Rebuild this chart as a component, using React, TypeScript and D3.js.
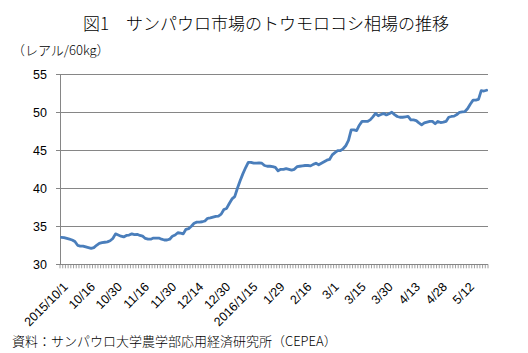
import React from "react";
import * as d3 from "d3";

const title = "図1　サンパウロ市場のトウモロコシ相場の推移";
const unitLabel = "（レアル/60kg）";
const sourceText = "資料：サンパウロ大学農学部応用経済研究所（CEPEA）";

const xTickLabels = [
  "2015/10/1", "10/16", "10/30", "11/16", "11/30", "12/14", "12/30", "2016/1/15",
  "1/29", "2/16", "3/1", "3/15", "3/30", "4/13", "4/28", "5/12",
];
const labelEvery = 10;

const yTicks = [30, 35, 40, 45, 50, 55];

const prices = [
  33.55, 33.5, 33.4, 33.3, 33.2, 33.0, 32.5, 32.4, 32.4, 32.3,
  32.2, 32.1, 32.2, 32.5, 32.75, 32.85, 32.9, 32.95, 33.1, 33.4,
  34.0, 33.85, 33.7, 33.6, 33.8, 33.85, 34.0, 33.9, 33.95, 33.8,
  33.7, 33.4, 33.3, 33.3, 33.45, 33.45, 33.45, 33.3, 33.2, 33.2,
  33.3, 33.7, 33.85, 34.15, 34.1, 34.0, 34.6, 34.7, 35.0, 35.4,
  35.55, 35.55, 35.6, 35.7, 36.05, 36.1, 36.2, 36.3, 36.35, 36.6,
  37.2, 37.35, 38.0, 38.6, 38.9, 40.0, 41.0, 41.9, 42.7, 43.4,
  43.4, 43.3, 43.3, 43.35, 43.3, 43.0, 42.9, 42.9, 42.85, 42.75,
  42.3, 42.5, 42.5, 42.6, 42.5, 42.4, 42.5, 42.85, 42.9, 42.95,
  43.0, 43.0, 42.95, 43.15, 43.3, 43.1, 43.3, 43.5, 43.7, 43.8,
  44.4, 44.7, 44.95, 44.95, 45.2, 45.6, 46.3, 47.7, 47.7, 47.6,
  48.3, 48.8, 48.8, 48.8, 49.0, 49.4, 49.85, 49.55, 49.7, 49.85,
  49.65, 49.8, 50.0, 49.7, 49.45, 49.35, 49.35, 49.4, 49.45, 49.0,
  49.0, 48.9, 48.6, 48.35, 48.6, 48.7, 48.8, 48.8, 48.5, 48.8,
  48.65, 48.7, 48.8, 49.35, 49.45, 49.5, 49.7, 50.0, 50.05, 50.1,
  50.5, 51.1, 51.6, 51.6, 51.7, 52.85, 52.8, 52.9,
];

const W = 528;
const H = 353;
const plot = { left: 60, right: 488, top: 74.3, bottom: 264.3 };
const jpFont = "'Noto Sans CJK JP', 'Noto Sans', sans-serif";
const numFont = "'Liberation Sans', 'DejaVu Sans', sans-serif";

export default function App() {
  const n = prices.length;
  const idx = d3.range(n);
  const band = d3
    .scaleBand<number>()
    .domain(idx)
    .range([plot.left, plot.right])
    .paddingInner(0)
    .paddingOuter(0);
  const bw = band.bandwidth();
  const cx = (i: number) => (band(i) as number) + bw / 2;
  const y = d3.scaleLinear().domain([30, 55]).range([plot.bottom, plot.top]);

  const line = d3
    .line<number>()
    .x((_, i) => cx(i))
    .y((d) => y(d))
    .curve(d3.curveLinear);

  const tickXs = d3.range(n + 1).map((i) => plot.left + i * bw);

  return (
    <svg
      width={W}
      height={H}
      style={{ position: "absolute", left: 0, top: 0, background: "#fff" }}
    >
      <rect x={0} y={0} width={W} height={H} fill="#fff" />
      <text
        x={266}
        y={30}
        textAnchor="middle"
        fontFamily={jpFont}
        fontSize={17}
        fontWeight={300}
        fill="#000"
      >
        {title}
      </text>
      <text x={12} y={55} fontFamily={jpFont} fontSize={13} fontWeight={300} fill="#000">
        {unitLabel}
      </text>

      {yTicks.map((t) => (
        <g key={t}>
          <line
            x1={plot.left - 4}
            x2={plot.right}
            y1={Math.round(y(t)) + 0.5}
            y2={Math.round(y(t)) + 0.5}
            stroke="#868686"
            strokeWidth={1}
          />
          <text
            x={47}
            y={y(t)}
            dy="0.36em"
            textAnchor="end"
            fontFamily={numFont}
            fontSize={12.5}
            fill="#000"
          >
            {t}
          </text>
        </g>
      ))}
      <line
        x1={plot.left + 0.5}
        x2={plot.left + 0.5}
        y1={plot.top}
        y2={plot.bottom}
        stroke="#868686"
        strokeWidth={1}
      />
      {tickXs.map((tx, i) => (
        <line
          key={i}
          x1={tx}
          x2={tx}
          y1={plot.bottom}
          y2={plot.bottom + 4}
          stroke="#868686"
          strokeWidth={0.8}
        />
      ))}

      <path
        d={line(prices) || ""}
        fill="none"
        stroke="#4A7EBB"
        strokeWidth={2.8}
        strokeLinejoin="round"
        strokeLinecap="round"
      />

      {xTickLabels.map((lab, k) => {
        const i = k * labelEvery;
        return (
          <text
            key={lab}
            transform={`translate(${cx(i) + 1},${plot.bottom + 17}) rotate(-45)`}
            dy="0.72em"
            textAnchor="end"
            fontFamily={numFont}
            fontSize={12.5}
            fill="#000"
          >
            {lab}
          </text>
        );
      })}

      <text x={12} y={346} fontFamily={jpFont} fontSize={13} fontWeight={300} fill="#000">
        {sourceText}
      </text>
    </svg>
  );
}
